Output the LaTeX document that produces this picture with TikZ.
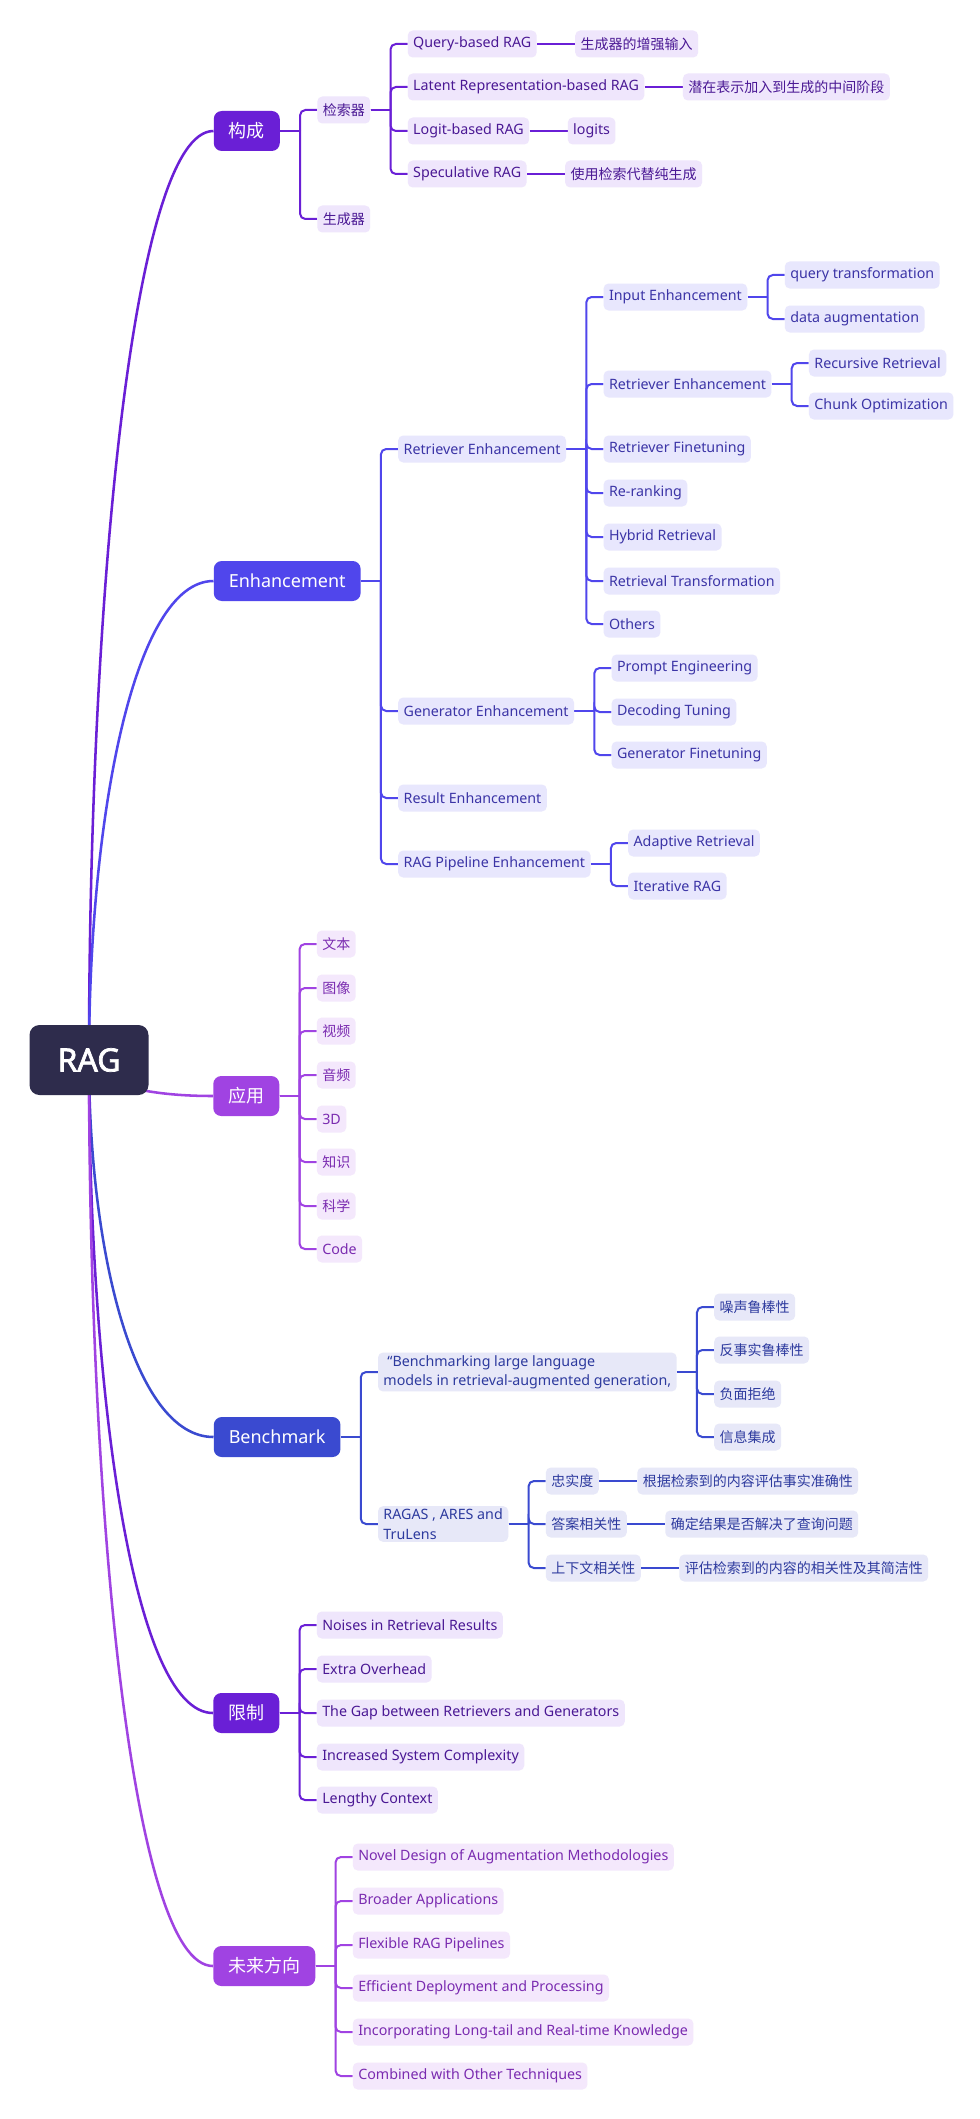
\documentclass[tikz,border=0pt]{standalone}
\usepackage{fontspec}
\setmainfont{Noto Sans}
\newfontfamily\cjk{Noto Sans CJK SC}
\newfontfamily\rootfont[FakeBold=2.2]{Noto Sans}
\pgfdeclarelayer{bg}
\pgfsetlayers{bg,main}
\definecolor{rootc}{HTML}{2E2C4C}
\definecolor{ca}{HTML}{6A1FD6}
\definecolor{cb}{HTML}{5046EC}
\definecolor{cc}{HTML}{A043E2}
\definecolor{cd}{HTML}{3A4AD0}
\definecolor{fa}{HTML}{EFE6FC}
\definecolor{fb}{HTML}{E8E7FD}
\definecolor{fc}{HTML}{F4E8FC}
\definecolor{fd}{HTML}{E7E8F8}
\definecolor{ta}{HTML}{4A1894}
\definecolor{tb}{HTML}{3B34A6}
\definecolor{tc}{HTML}{7A2BB0}
\definecolor{td}{HTML}{2D3A9E}
\tikzset{
  rootbox/.style={fill=rootc, text=white, rounded corners=7.5pt, minimum width=89.25pt, minimum height=52.5pt, font=\rootfont\fontsize{24}{28}\selectfont},
  lone/.style={rounded corners=6pt, text=white, inner xsep=11.25pt, inner ysep=2pt, minimum height=30pt, font=\fontsize{13.5}{16}\selectfont, anchor=west},
  cnbig/.style={font=\cjk\fontsize{13.5}{16}\selectfont},
  leaf/.style={rounded corners=3.75pt, inner xsep=4.1pt, inner ysep=2pt, minimum height=20.25pt, font=\fontsize{10.7}{14.5}\selectfont, anchor=west},
  cn/.style={font=\cjk\fontsize{10.5}{14.5}\selectfont},
  Ba/.style={leaf, fill=fa, text=ta},
  Bb/.style={leaf, fill=fb, text=tb},
  Bc/.style={leaf, fill=fc, text=tc},
  Bd/.style={leaf, fill=fd, text=td},
  wa/.style={draw=ca, line width=1.5pt},
  wb/.style={draw=cb, line width=1.5pt},
  wc/.style={draw=cc, line width=1.5pt},
  wd/.style={draw=cd, line width=1.5pt},
  curve/.style={line width=1.9pt},
}
% child node placed right of parent (elbow connector)
\newcommand\ch[5]{\node[#1, xshift=27.75pt] (#3) at (#2.east |- 0,#4) {#5};}
% leaf node on same line as parent
\newcommand\lf[4]{\node[#1, xshift=28.5pt] (#3) at (#2.east) {#4};}
\newcommand\elb[3]{\draw[#1, line width=2pt] (#2.east) -- ([xshift=15pt]#2.east);
  \draw[#1, rounded corners=4pt] ([xshift=15pt]#2.east) |- (#3.west);}
\newcommand\stl[3]{\draw[#1, line width=2pt] (#2.east) -- (#3.west);}
\begin{document}
\begin{tikzpicture}[x=0.75pt,y=-0.75pt]
\useasboundingbox (0,0) rectangle (980,2119);

% root and main branches
\node[rootbox] (rag) at (89,1060) {RAG};
\node[lone, fill=ca, cnbig] (k1) at (213.5,131) {构成};
\node[lone, fill=cb] (k2) at (213.5,581) {Enhancement};
\node[lone, fill=cc, cnbig] (k3) at (213,1096) {应用};
\node[lone, fill=cd] (k4) at (213.5,1437) {Benchmark};
\node[lone, fill=ca, cnbig] (k5) at (213,1713) {限制};
\node[lone, fill=cc, cnbig] (k6) at (213,1966) {未来方向};

% branch 1
\ch{Ba,cn}{k1}{a1}{110}{检索器}
\ch{Ba,cn}{k1}{a2}{219}{生成器}
\ch{Ba}{a1}{a11}{44}{Query-based RAG}
\ch{Ba}{a1}{a12}{87}{Latent Representation-based RAG}
\ch{Ba}{a1}{a13}{131}{Logit-based RAG}
\ch{Ba}{a1}{a14}{174}{Speculative RAG}
\lf{Ba,cn}{a11}{a111}{生成器的增强输入}
\lf{Ba,cn}{a12}{a121}{潜在表示加入到生成的中间阶段}
\lf{Ba}{a13}{a131}{logits}
\lf{Ba,cn}{a14}{a141}{使用检索代替纯生成}

% branch 2
\ch{Bb}{k2}{b1}{449}{Retriever Enhancement}
\ch{Bb}{k2}{b2}{711}{Generator Enhancement}
\ch{Bb}{k2}{b3}{798}{Result Enhancement}
\ch{Bb}{k2}{b4}{864}{RAG Pipeline Enhancement}
\ch{Bb}{b1}{b11}{297}{Input Enhancement}
\ch{Bb}{b1}{b12}{384}{Retriever Enhancement}
\ch{Bb}{b1}{b13}{449}{Retriever Finetuning}
\ch{Bb}{b1}{b14}{493}{Re-ranking}
\ch{Bb}{b1}{b15}{537}{Hybrid Retrieval}
\ch{Bb}{b1}{b16}{581}{Retrieval Transformation}
\ch{Bb}{b1}{b17}{624}{Others}
\ch{Bb}{b11}{b111}{275}{query transformation}
\ch{Bb}{b11}{b112}{319}{data augmentation}
\ch{Bb}{b12}{b121}{363}{Recursive Retrieval}
\ch{Bb}{b12}{b122}{406}{Chunk Optimization}
\ch{Bb}{b2}{b21}{668}{Prompt Engineering}
\ch{Bb}{b2}{b22}{712}{Decoding Tuning}
\ch{Bb}{b2}{b23}{755}{Generator Finetuning}
\ch{Bb}{b4}{b41}{843}{Adaptive Retrieval}
\ch{Bb}{b4}{b42}{886}{Iterative RAG}

% branch 3
\ch{Bc,cn}{k3}{c1}{944}{文本}
\ch{Bc,cn}{k3}{c2}{988}{图像}
\ch{Bc,cn}{k3}{c3}{1031}{视频}
\ch{Bc,cn}{k3}{c4}{1075}{音频}
\ch{Bc}{k3}{c5}{1119}{3D}
\ch{Bc,cn}{k3}{c6}{1162}{知识}
\ch{Bc,cn}{k3}{c7}{1206}{科学}
\ch{Bc}{k3}{c8}{1249}{Code}

% branch 4
\ch{Bd, align=left}{k4}{d1}{1372}{\hspace*{3pt}“Benchmarking large language\\models in retrieval-augmented generation,}
\ch{Bd, align=left}{k4}{d2}{1524}{RAGAS , ARES and\\TruLens}
\ch{Bd,cn}{d1}{d11}{1307}{噪声鲁棒性}
\ch{Bd,cn}{d1}{d12}{1350}{反事实鲁棒性}
\ch{Bd,cn}{d1}{d13}{1394}{负面拒绝}
\ch{Bd,cn}{d1}{d14}{1437}{信息集成}
\ch{Bd,cn}{d2}{d21}{1481}{忠实度}
\ch{Bd,cn}{d2}{d22}{1524}{答案相关性}
\ch{Bd,cn}{d2}{d23}{1568}{上下文相关性}
\lf{Bd,cn}{d21}{d211}{根据检索到的内容评估事实准确性}
\lf{Bd,cn}{d22}{d221}{确定结果是否解决了查询问题}
\lf{Bd,cn}{d23}{d231}{评估检索到的内容的相关性及其简洁性}

% branch 5
\ch{Ba}{k5}{e1}{1625}{Noises in Retrieval Results}
\ch{Ba}{k5}{e2}{1669}{Extra Overhead}
\ch{Ba}{k5}{e3}{1713}{The Gap between Retrievers and Generators}
\ch{Ba}{k5}{e4}{1757}{Increased System Complexity}
\ch{Ba}{k5}{e5}{1800}{Lengthy Context}

% branch 6
\ch{Bc}{k6}{f1}{1857}{Novel Design of Augmentation Methodologies}
\ch{Bc}{k6}{f2}{1901}{Broader Applications}
\ch{Bc}{k6}{f3}{1945}{Flexible RAG Pipelines}
\ch{Bc}{k6}{f4}{1988}{Efficient Deployment and Processing}
\ch{Bc}{k6}{f5}{2032}{Incorporating Long-tail and Real-time Knowledge}
\ch{Bc}{k6}{f6}{2076}{Combined with Other Techniques}

\begin{pgfonlayer}{bg}
\fill[white] (0,0) rectangle (980,2119);
% root curves
\draw[curve, ca] (rag.center) .. controls (89,595) and (133,131) .. (k1.west);
\draw[curve, cb] (rag.center) .. controls (89,820) and (133,581) .. (k2.west);
\draw[curve, cc] (rag.center) .. controls (89,1078) and (132,1096) .. (k3.west);
\draw[curve, cd] (rag.center) .. controls (89,1248) and (133,1437) .. (k4.west);
\draw[curve, ca] (rag.center) .. controls (89,1386) and (132,1713) .. (k5.west);
\draw[curve, cc] (rag.center) .. controls (89,1513) and (132,1966) .. (k6.west);
% branch 1
\elb{wa}{k1}{a1} \elb{wa}{k1}{a2}
\elb{wa}{a1}{a11} \elb{wa}{a1}{a12} \elb{wa}{a1}{a13} \elb{wa}{a1}{a14}
\stl{wa}{a11}{a111} \stl{wa}{a12}{a121} \stl{wa}{a13}{a131} \stl{wa}{a14}{a141}
% branch 2
\elb{wb}{k2}{b1} \elb{wb}{k2}{b2} \elb{wb}{k2}{b3} \elb{wb}{k2}{b4}
\elb{wb}{b1}{b11} \elb{wb}{b1}{b12} \elb{wb}{b1}{b13} \elb{wb}{b1}{b14}
\elb{wb}{b1}{b15} \elb{wb}{b1}{b16} \elb{wb}{b1}{b17}
\elb{wb}{b11}{b111} \elb{wb}{b11}{b112}
\elb{wb}{b12}{b121} \elb{wb}{b12}{b122}
\elb{wb}{b2}{b21} \elb{wb}{b2}{b22} \elb{wb}{b2}{b23}
\elb{wb}{b4}{b41} \elb{wb}{b4}{b42}
% branch 3
\elb{wc}{k3}{c1} \elb{wc}{k3}{c2} \elb{wc}{k3}{c3} \elb{wc}{k3}{c4}
\elb{wc}{k3}{c5} \elb{wc}{k3}{c6} \elb{wc}{k3}{c7} \elb{wc}{k3}{c8}
% branch 4
\elb{wd}{k4}{d1} \elb{wd}{k4}{d2}
\elb{wd}{d1}{d11} \elb{wd}{d1}{d12} \elb{wd}{d1}{d13} \elb{wd}{d1}{d14}
\elb{wd}{d2}{d21} \elb{wd}{d2}{d22} \elb{wd}{d2}{d23}
\stl{wd}{d21}{d211} \stl{wd}{d22}{d221} \stl{wd}{d23}{d231}
% branch 5
\elb{wa}{k5}{e1} \elb{wa}{k5}{e2} \elb{wa}{k5}{e3} \elb{wa}{k5}{e4} \elb{wa}{k5}{e5}
% branch 6
\elb{wc}{k6}{f1} \elb{wc}{k6}{f2} \elb{wc}{k6}{f3}
\elb{wc}{k6}{f4} \elb{wc}{k6}{f5} \elb{wc}{k6}{f6}
\end{pgfonlayer}
\end{tikzpicture}
\end{document}
